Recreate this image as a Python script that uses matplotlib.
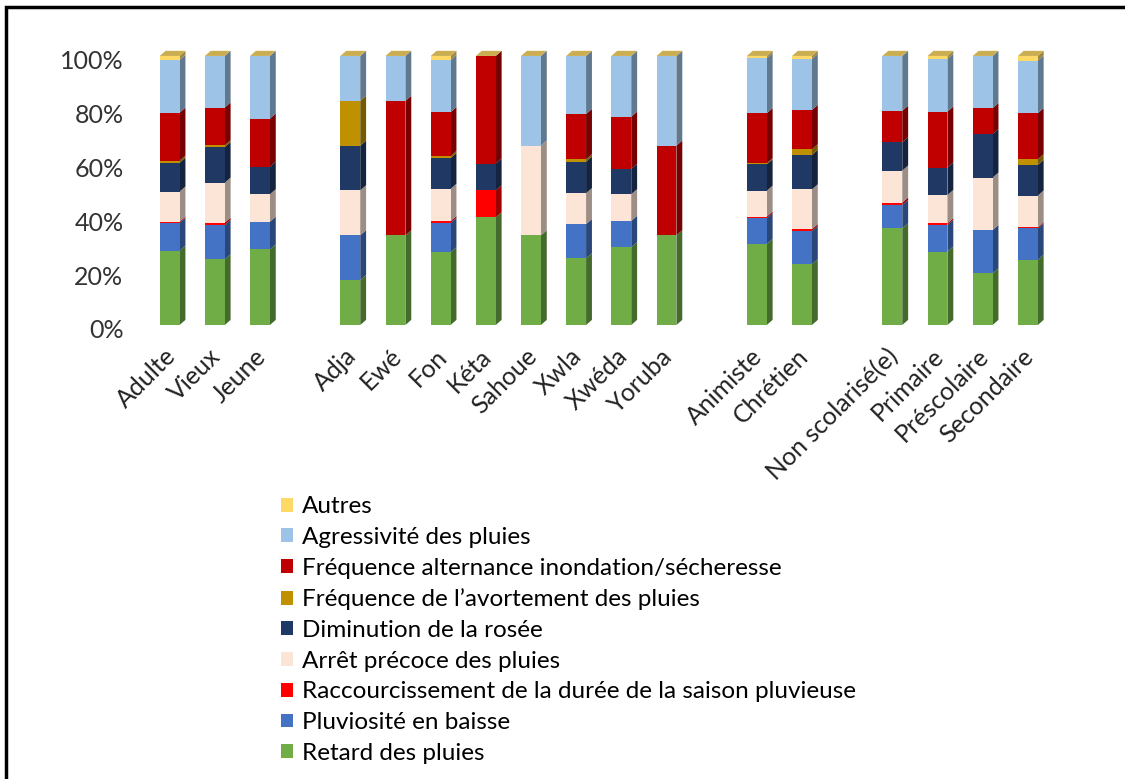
import matplotlib.pyplot as plt
import matplotlib.colors as mcolors
import matplotlib.transforms as mtransforms
from matplotlib.patches import Polygon, Rectangle, Patch
import numpy as np

plt.rcParams['font.family'] = ['Lato', 'DejaVu Sans']

# Categories, in groups (blank slot between groups)
groups = [
    ["Adulte", "Vieux", "Jeune"],
    ["Adja", "Ewé", "Fon", "Kéta", "Sahoue", "Xwla", "Xwéda", "Yoruba"],
    ["Animiste", "Chrétien"],
    ["Non scolarisé(e)", "Primaire", "Préscolaire", "Secondaire"],
]

series_names = [
    "Retard des pluies",
    "Pluviosité en baisse",
    "Raccourcissement de la durée de la saison pluvieuse",
    "Arrêt précoce des pluies",
    "Diminution de la rosée",
    "Fréquence de l\u2019avortement des pluies",
    "Fréquence alternance inondation/sécheresse",
    "Agressivité des pluies",
    "Autres",
]
colors = ["#70AD47", "#4472C4", "#FF0000", "#FCE4D6", "#203864",
          "#BF9000", "#C00000", "#9DC3E6", "#FFD966"]

# percentages per category (same order as the flattened groups)
retard      = [27.6, 24.4, 28.1, 16.7, 33.3, 27.0, 40.0, 33.3, 24.8, 28.9, 33.3, 30.1, 22.6, 35.9, 27.3, 19.2, 24.2]
pluviosite  = [10.4, 12.8, 10.3, 16.7,  0.0, 11.0,  0.0,  0.0, 12.7,  9.8,  0.0,  9.6, 12.3,  8.7,  9.9, 16.1, 11.7]
raccourci   = [ 0.4,  0.8,  0.0,  0.0,  0.0,  0.6, 10.0,  0.0,  0.0,  0.0,  0.0,  0.6,  0.7,  0.9,  0.6,  0.0,  0.4]
arret       = [11.2, 14.9, 10.2, 16.7,  0.0, 12.0,  0.0, 33.3, 11.5,  9.9,  0.0,  9.6, 14.8, 11.9, 10.5, 19.5, 11.8]
rosee       = [10.7, 13.2, 10.2, 16.6,  0.0, 11.4, 10.0,  0.0, 11.7,  9.4,  0.0,  9.8, 12.8, 10.5, 10.2, 16.1, 11.4]
avortement  = [ 0.8,  0.7,  0.0, 16.7,  0.0,  0.8,  0.0,  0.0,  0.9,  0.0,  0.0,  0.4,  2.1,  0.0,  0.0,  0.0,  2.1]
alternance  = [17.8, 14.0, 17.9,  0.0, 50.0, 16.3, 40.0,  0.0, 16.8, 19.4, 33.3, 18.6, 14.6, 11.7, 20.8,  9.7, 17.1]
agressivite = [19.6, 19.2, 23.3, 16.7, 16.7, 19.4,  0.0, 33.3, 21.6, 22.6, 33.3, 20.4, 19.0, 20.4, 19.6, 19.4, 19.6]
autres      = [ 1.5,  0.0,  0.0,  0.0,  0.0,  1.5,  0.0,  0.0,  0.0,  0.0,  0.0,  0.9,  1.1,  0.0,  1.1,  0.0,  1.7]

data = np.array([retard, pluviosite, raccourci, arret, rosee,
                 avortement, alternance, agressivite, autres])
data = data / data.sum(axis=0) * 100

# x positions with a blank slot between groups
labels, xpos = [], []
pos = 0
for g in groups:
    for name in g:
        labels.append(name)
        xpos.append(pos)
        pos += 1
    pos += 1
xpos = np.array(xpos, dtype=float)

def shade(c, f):
    r, g, b = mcolors.to_rgb(c)
    return (r * f, g * f, b * f)

fig = plt.figure(figsize=(11.25, 7.79), dpi=100)
ax = fig.add_axes([0.1307, 0.5828, 0.803, 0.3592])

w = 0.44
dx, dy = 0.13, 1.9
bottom = np.zeros(len(labels))
for i, name in enumerate(series_names):
    vals = data[i]
    ax.bar(xpos, vals, w, bottom=bottom, color=colors[i], linewidth=0, zorder=2)
    for x, b, h in zip(xpos, bottom, vals):
        if h <= 0:
            continue
        side = Polygon([(x + w / 2, b), (x + w / 2 + dx, b + dy),
                        (x + w / 2 + dx, b + h + dy), (x + w / 2, b + h)],
                       closed=True, facecolor=shade(colors[i], 0.62),
                       edgecolor='none', zorder=1)
        ax.add_patch(side)
    bottom += vals

# top faces
for x, t in zip(xpos, bottom):
    top = Polygon([(x - w / 2, t), (x - w / 2 + dx, t + dy),
                   (x + w / 2 + dx, t + dy), (x + w / 2, t)],
                  closed=True, facecolor=shade(colors[-1], 0.8),
                  edgecolor='none', zorder=3)
    ax.add_patch(top)

ax.set_xlim(xpos[0] - 0.5, xpos[-1] + 0.5)
ax.set_ylim(0, 104)
ax.set_yticks([0, 20, 40, 60, 80, 100])
ax.set_yticklabels(["0%", "20%", "40%", "60%", "80%", "100%"], fontsize=18, color="#333333")
ax.set_xticks(xpos)
ax.set_xticklabels(labels, rotation=45, ha='right', va='top',
                   rotation_mode='anchor', fontsize=18, color="#222222")
ax.tick_params(axis='both', length=0)
ax.tick_params(axis='y', pad=17)
ax.tick_params(axis='x', pad=14)
for s in ax.spines.values():
    s.set_visible(False)

# y labels sit a little lower (3D back wall)
off = mtransforms.ScaledTranslation(0, -4 / 100, fig.dpi_scale_trans)
for lab in ax.get_yticklabels():
    lab.set_transform(lab.get_transform() + off)
offx = mtransforms.ScaledTranslation(-6 / 100, 0, fig.dpi_scale_trans)
for lab in ax.get_xticklabels():
    lab.set_transform(lab.get_transform() + offx)

handles = [Patch(facecolor=colors[i], edgecolor='none') for i in range(len(series_names))][::-1]
fig.legend(handles, series_names[::-1], loc='upper left',
           bbox_to_anchor=(0.25, 0.363), frameon=False, fontsize=17.5,
           handlelength=0.5, handleheight=0.5, handletextpad=0.35,
           labelspacing=0.40, borderpad=0, borderaxespad=0)

# chart frame (left and top edges visible)
fig.add_artist(Rectangle((6 / 1125, -0.05), 1.2, 0.05 + (779 - 7) / 779,
                         transform=fig.transFigure, fill=False,
                         edgecolor='black', linewidth=2.5))

fig.savefig("out.png", dpi=100)
